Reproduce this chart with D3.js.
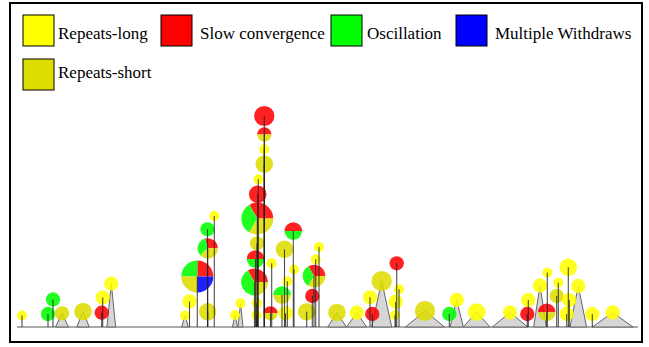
<!DOCTYPE html>
<html>
<head>
<meta charset="utf-8">
<script src="https://cdn.jsdelivr.net/npm/d3@7"></script>
<style>
  body { margin: 0; background: #fff; }
</style>
</head>
<body>
<div id="chart"></div>
<script>
// categories, in legend order
const categories = ["Repeats-long", "Slow convergence", "Oscillation", "Multiple Withdraws", "Repeats-short"];
const catColors = ["#ffff00", "#ff0000", "#00ff00", "#0000ff", "#dddd00"];
// order of the slices, counter-clockwise from 3 o'clock
const pieOrder = [1, 2, 0, 4, 3];

// one entry per event
const evTime = [5, 31, 36, 45, 66, 84.7, 85.7, 94.3,
  168, 172.5, 180.3, 190.7, 190.7, 190.5, 197.3, 218, 223.5,
  239.5, 239.7, 237.5, 238.5, 240, 240.3, 240.7, 241.3, 247.3, 247.3, 247.3, 247.3,
  254.7, 253.5, 268.5, 265, 270.3, 267.5, 276.3, 277, 289.7, 295.3, 297, 298.7, 302, 320,
  339.7, 355.3, 353, 364.7, 379.7, 382, 378.7, 378, 408, 432.3, 439.7, 459.7,
  493, 510.3, 511.3, 523, 529.7, 530.3, 541.3, 539.7, 551.3, 552.3, 549.7, 561.3, 575.3, 595.7];
const evHeight = [11.5, 13, 27.5, 13.7, 15.5, 14.3, 29.5, 43.3,
  11.5, 25.5, 50.5, 15.3, 78.7, 97.7, 111, 12, 23.7,
  12, 23.7, 45, 68, 83.7, 108.5, 132.7, 147.7, 163, 177.7, 192.5, 211,
  63.7, 13.7, 13.7, 32, 45.7, 77.7, 96, 57.5, 15.3, 31, 51, 67.7, 80, 14.5,
  14.3, 13, 29.7, 46, 63.7, 37.7, 25.3, 12, 16, 13, 27, 15,
  14.5, 13, 27, 41.5, 14.7, 54.3, 44.3, 31, 59.7, 27, 13, 41, 13, 14.5];
const evSize = [1, 2, 2, 2, 3, 2, 2, 2,
  1, 2, 10, 3, 4, 2, 1, 1, 1,
  1, 1, 7, 3, 2, 10, 3, 1, 3, 1, 2, 4,
  1, 2, 2, 3, 1, 3, 3, 1, 3, 2, 5, 1, 1, 3,
  2, 2, 2, 4, 2, 1, 2, 1, 4, 2, 2, 3,
  2, 2, 2, 2, 3, 1, 1, 2, 3, 2, 2, 2, 2, 2];
// base width of the event (0 = instant, drawn as a stem)
const evSpan = [0, 0, 0, 13, 12.5, 0, 0, 8.7,
  6.6, 0, 0, 0, 0, 0, 0, 5, 5,
  0, 0, 0, 0, 0, 0, 0, 0, 0, 0, 0, 0,
  0, 0, 0, 0, 0, 0, 0, 0, 0, 0, 0, 0, 0, 18.5,
  20, 0, 0, 20, 0, 0, 0, 0, 39, 0, 13.3, 26.7,
  35.6, 0, 0, 12.7, 0, 0, 0, 0, 0, 0, 0, 16.6, 0, 40.7];
// counts per category (legend order)
const L = [1, 0, 0, 0, 0], R = [0, 1, 0, 0, 0], G = [0, 0, 1, 0, 0], S = [0, 0, 0, 0, 1];
const evMix = [L, G, G, S, S, R, L, L,
  L, L, [0, 1, 1, 1, 1], S, [0, 7, 8, 0, 9], G, L, L, L,
  L, L, [0, 4, 5, 0, 3], [0, 1, 1, 0, 0], S, [0, 1, 1, 0, 1], R, L, S, L, [0, 1, 0, 0, 1], R,
  L, [0, 1, 0, 0, 1], L, [0, 0, 1, 0, 1], L, S, [0, 1, 1, 0, 0], L, S, R, [0, 1, 1, 0, 1], L, L, S,
  L, R, L, S, R, L, L, L, S, G, L, L,
  L, R, L, L, [0, 1, 0, 0, 1], L, L, S, L, L, L, L, L, L];

const W = 649, H = 347;
const svg = d3.select("#chart").append("svg")
  .attr("width", W).attr("height", H);

svg.append("rect")
  .attr("x", 10).attr("y", 3).attr("width", 632).attr("height", 339)
  .attr("fill", "#fff").attr("stroke", "#000").attr("stroke-width", 2);

// legend
const legendX = [23, 161, 331, 456, 23];
const legendY = [15, 15, 15, 15, 59];
const textGap = [4, 8, 5, 8, 4];
const textY = [39, 39, 39, 39, 78];
const legend = svg.append("g");
categories.forEach((c, i) => {
  legend.append("rect")
    .attr("x", legendX[i]).attr("y", legendY[i])
    .attr("width", 31).attr("height", 31)
    .attr("fill", catColors[i]).attr("stroke", "#000").attr("stroke-width", 1);
  legend.append("text")
    .attr("x", legendX[i] + 31 + textGap[i]).attr("y", textY[i])
    .style("font-family", "'Liberation Serif', 'DejaVu Serif', serif")
    .style("font-size", "17px")
    .attr("fill", "#000")
    .text(c);
});

// scales
const x = d3.scaleLinear().domain([0, 620]).range([17, 637]);
const y = d3.scaleLinear().domain([0, 212]).range([327, 115]);
const r = d3.scaleSqrt().domain([0, 10]).range([0, 16]);

const events = evTime.map((t, i) => ({
  t, h: evHeight[i], size: evSize[i], span: evSpan[i], mix: evMix[i]
}));

svg.append("line")
  .attr("x1", x(0)).attr("x2", x(621))
  .attr("y1", y(0)).attr("y2", y(0))
  .attr("stroke", "#aaa").attr("stroke-width", 2);

// spans as triangles
svg.append("g").selectAll("path")
  .data(events.filter(d => d.span > 0))
  .join("path")
  .attr("d", d => `M${x(d.t - d.span / 2)},${y(0)}L${x(d.t)},${y(d.h)}L${x(d.t + d.span / 2)},${y(0)}Z`)
  .attr("fill", "#d6d6d6").attr("stroke", "#666").attr("stroke-width", 1);

const pie = d3.pie().sort(null).value(d => d.v)
  .startAngle(Math.PI / 2).endAngle(Math.PI / 2 - 2 * Math.PI);

const glyphs = svg.append("g").selectAll("g")
  .data(events)
  .join("g")
  .attr("transform", d => `translate(${x(d.t)},${y(d.h)})`)
  .attr("opacity", 0.87);

glyphs.each(function(d) {
  const arc = d3.arc().innerRadius(0).outerRadius(r(d.size));
  const slices = pieOrder.map(k => ({ k, v: d.mix[k] })).filter(s => s.v > 0);
  d3.select(this).selectAll("path")
    .data(pie(slices))
    .join("path")
    .attr("d", arc)
    .attr("fill", s => catColors[s.data.k]);
});

// stems for instant events
svg.append("g").selectAll("line")
  .data(events.filter(d => d.span === 0))
  .join("line")
  .attr("x1", d => x(d.t)).attr("x2", d => x(d.t))
  .attr("y1", d => y(d.h)).attr("y2", y(0))
  .attr("stroke", "#222").attr("stroke-opacity", 0.8).attr("stroke-width", 1.1);
</script>
</body>
</html>
